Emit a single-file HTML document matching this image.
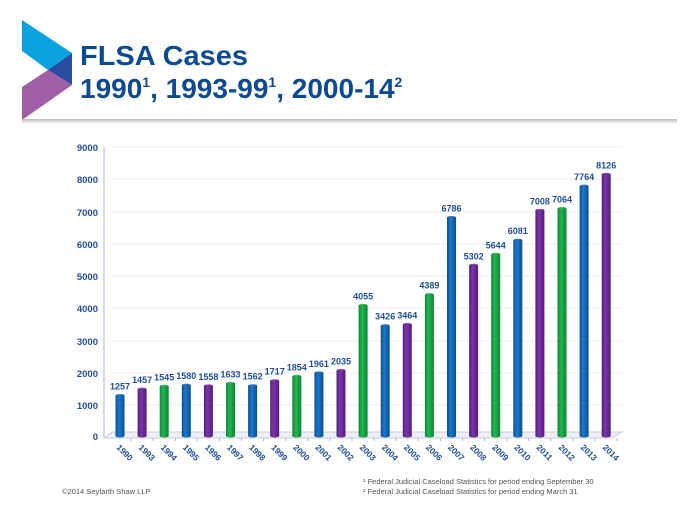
<!DOCTYPE html>
<html><head><meta charset="utf-8"><style>
body{margin:0;background:#fff;width:698px;height:519px;overflow:hidden;font-family:"Liberation Sans",Arial,sans-serif}
</style></head><body>
<svg width="698" height="519" viewBox="0 0 698 519" xmlns="http://www.w3.org/2000/svg" font-family="Liberation Sans, Arial, sans-serif">
<defs>
<linearGradient id="gb" x1="0" x2="1"><stop offset="0" stop-color="#0d4f95"/><stop offset=".4" stop-color="#1a78cc"/><stop offset="1" stop-color="#0c4d92"/></linearGradient>
<linearGradient id="gp" x1="0" x2="1"><stop offset="0" stop-color="#55207e"/><stop offset=".4" stop-color="#7a35ab"/><stop offset="1" stop-color="#511e7a"/></linearGradient>
<linearGradient id="gg" x1="0" x2="1"><stop offset="0" stop-color="#0e8a34"/><stop offset=".4" stop-color="#22b553"/><stop offset="1" stop-color="#0c8530"/></linearGradient>
<linearGradient id="sh" x1="0" y1="0" x2="0" y2="1"><stop offset="0" stop-color="#bbb"/><stop offset="1" stop-color="#fff"/></linearGradient>
</defs>
<polygon points="22,20 72,53 48,70 22,51" fill="#0aa3e0"/>
<polygon points="72,53 72,85 48,70" fill="#2a4ca0"/>
<polygon points="22,87 48,70 72,85 22,120" fill="#a05ea6"/>
<text x="80" y="65" font-size="28" font-weight="bold" fill="#0d4a94" textLength="168" lengthAdjust="spacingAndGlyphs">FLSA Cases</text>
<text x="80" y="98" font-size="28" font-weight="bold" fill="#0d4a94">1990<tspan font-size="14" dy="-11">1</tspan><tspan dy="11">, 1993-99</tspan><tspan font-size="14" dy="-11">1</tspan><tspan dy="11">, 2000-14</tspan><tspan font-size="14" dy="-11">2</tspan></text>
<rect x="22" y="119" width="655" height="5" fill="url(#sh)"/>
<g font-size="9.5" font-weight="bold" fill="#1f4e9c" text-anchor="end">
<text x="98" y="440">0</text><text x="98" y="409">1000</text><text x="98" y="377">2000</text><text x="98" y="345">3000</text><text x="98" y="312">4000</text><text x="98" y="280">5000</text><text x="98" y="248">6000</text><text x="98" y="216">7000</text><text x="98" y="183">8000</text><text x="98" y="151">9000</text>
</g>
<g stroke="#eeeeee" stroke-width="1">
<line x1="112" y1="405" x2="622" y2="405"/><line x1="112" y1="373" x2="622" y2="373"/><line x1="112" y1="341" x2="622" y2="341"/><line x1="112" y1="308" x2="622" y2="308"/><line x1="112" y1="276" x2="622" y2="276"/><line x1="112" y1="244" x2="622" y2="244"/><line x1="112" y1="212" x2="622" y2="212"/><line x1="112" y1="179" x2="622" y2="179"/><line x1="112" y1="147" x2="622" y2="147"/>
</g>
<line x1="104" y1="147" x2="104" y2="438" stroke="#aab4cc"/>
<polygon points="104,438 612,438 622,432 112,432" fill="#eef0f5" stroke="#c8cde0"/>
<g id="bars"></g>
<g font-size="7.5" fill="#555">
<text x="363" y="484">¹ Federal Judicial Caseload Statistics for period ending September 30</text>
<text x="363" y="494">² Federal Judicial Caseload Statistics for period ending March 31</text>
</g>
<text x="62" y="494" font-size="7.5" fill="#555">©2014 Seyfarth Shaw LLP</text>
</svg>
<script>
var d=[["1990",1257],["1993",1457],["1994",1545],["1995",1580],["1996",1558],["1997",1633],["1998",1562],["1999",1717],["2000",1854],["2001",1961],["2002",2035],["2003",4055],["2004",3426],["2005",3464],["2006",4389],["2007",6786],["2008",5302],["2009",5644],["2010",6081],["2011",7008],["2012",7064],["2013",7764],["2014",8126]];
var g=document.getElementById('bars'),s='',cols=['gb','gp','gg'];
d.forEach(function(e,i){var x=120+i*22.1,top=436-e[1]*0.0322,w=9;
s+='<rect x="'+(x-w/2)+'" y="'+top+'" width="'+w+'" height="'+(436-top)+'" fill="url(#'+cols[i%3]+')"/>';
s+='<ellipse cx="'+x+'" cy="'+top+'" rx="4.5" ry="1.5" fill="url(#'+cols[i%3]+')" opacity=".9"/>';
s+='<ellipse cx="'+x+'" cy="436" rx="4.5" ry="1.5" fill="url(#'+cols[i%3]+')"/>';
s+='<line x1="'+(x+11)+'" y1="438" x2="'+(x+11)+'" y2="441" stroke="#aab4cc"/>';
s+='<text x="'+x+'" y="'+(top-6)+'" font-size="9" font-weight="bold" fill="#1f4e9c" text-anchor="middle">'+e[1]+'</text>';
s+='<text transform="translate('+(x-4)+',448) rotate(45)" font-size="8.5" font-weight="bold" fill="#1f4e9c">'+e[0]+'</text>';});
g.innerHTML=s;
</script>
</body></html>
